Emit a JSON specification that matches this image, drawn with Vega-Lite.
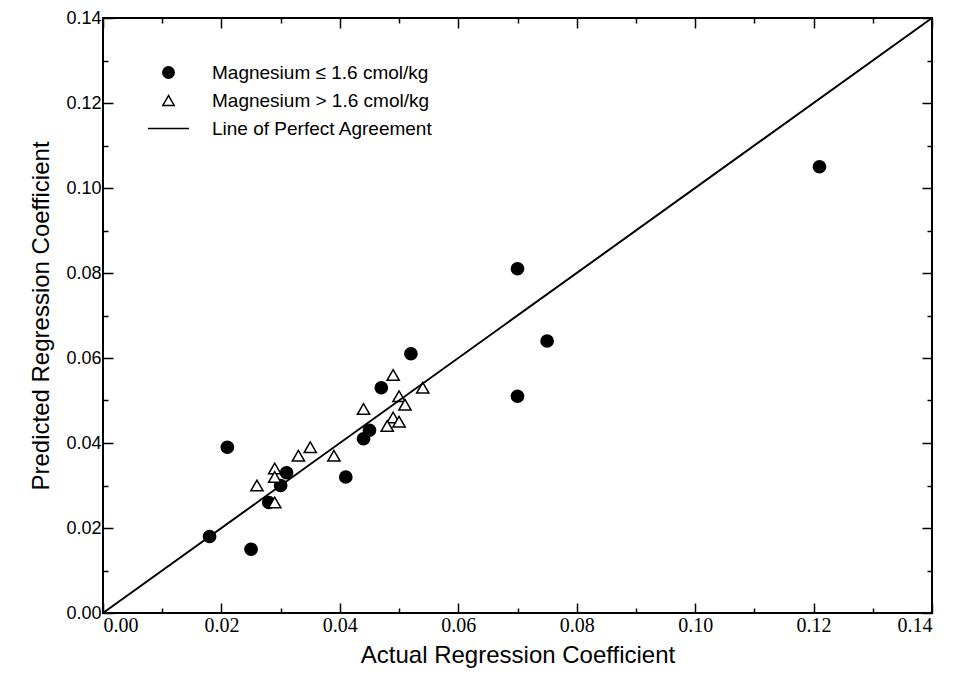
{
  "$schema": "https://vega.github.io/schema/vega-lite/v6.json",
  "width": 829,
  "height": 595,
  "autosize": {"type": "none"},
  "padding": {"left": 103, "top": 18, "right": 23, "bottom": 73},
  "background": "white",
  "config": {
    "view": {"stroke": "black", "strokeWidth": 2},
    "font": "Liberation Sans",
    "axis": {
      "domain": false,
      "grid": false,
      "tickColor": "black",
      "tickWidth": 1.5,
      "labelColor": "black",
      "titleColor": "black",
      "titleFontWeight": "normal"
    },
    "legend": {
      "orient": "none",
      "legendX": 56,
      "legendY": 45,
      "padding": 0,
      "labelFont": "Liberation Sans",
      "labelFontSize": 19,
      "labelColor": "black",
      "labelLimit": 500,
      "labelOffset": 34,
      "rowPadding": 8,
      "symbolSize": 130,
      "symbolStrokeWidth": 1.5
    }
  },
  "resolve": {"axis": {"x": "independent", "y": "independent"}},
  "layer": [
    {
      "data": {"values": [
        {"actual": 0.018, "predicted": 0.018, "group": "Magnesium ≤ 1.6 cmol/kg"},
        {"actual": 0.025, "predicted": 0.015, "group": "Magnesium ≤ 1.6 cmol/kg"},
        {"actual": 0.021, "predicted": 0.039, "group": "Magnesium ≤ 1.6 cmol/kg"},
        {"actual": 0.028, "predicted": 0.026, "group": "Magnesium ≤ 1.6 cmol/kg"},
        {"actual": 0.030, "predicted": 0.030, "group": "Magnesium ≤ 1.6 cmol/kg"},
        {"actual": 0.031, "predicted": 0.033, "group": "Magnesium ≤ 1.6 cmol/kg"},
        {"actual": 0.041, "predicted": 0.032, "group": "Magnesium ≤ 1.6 cmol/kg"},
        {"actual": 0.044, "predicted": 0.041, "group": "Magnesium ≤ 1.6 cmol/kg"},
        {"actual": 0.045, "predicted": 0.043, "group": "Magnesium ≤ 1.6 cmol/kg"},
        {"actual": 0.047, "predicted": 0.053, "group": "Magnesium ≤ 1.6 cmol/kg"},
        {"actual": 0.052, "predicted": 0.061, "group": "Magnesium ≤ 1.6 cmol/kg"},
        {"actual": 0.070, "predicted": 0.081, "group": "Magnesium ≤ 1.6 cmol/kg"},
        {"actual": 0.070, "predicted": 0.051, "group": "Magnesium ≤ 1.6 cmol/kg"},
        {"actual": 0.075, "predicted": 0.064, "group": "Magnesium ≤ 1.6 cmol/kg"},
        {"actual": 0.121, "predicted": 0.105, "group": "Magnesium ≤ 1.6 cmol/kg"},
        {"actual": 0.026, "predicted": 0.030, "group": "Magnesium > 1.6 cmol/kg"},
        {"actual": 0.029, "predicted": 0.034, "group": "Magnesium > 1.6 cmol/kg"},
        {"actual": 0.029, "predicted": 0.032, "group": "Magnesium > 1.6 cmol/kg"},
        {"actual": 0.029, "predicted": 0.026, "group": "Magnesium > 1.6 cmol/kg"},
        {"actual": 0.033, "predicted": 0.037, "group": "Magnesium > 1.6 cmol/kg"},
        {"actual": 0.035, "predicted": 0.039, "group": "Magnesium > 1.6 cmol/kg"},
        {"actual": 0.039, "predicted": 0.037, "group": "Magnesium > 1.6 cmol/kg"},
        {"actual": 0.044, "predicted": 0.048, "group": "Magnesium > 1.6 cmol/kg"},
        {"actual": 0.049, "predicted": 0.056, "group": "Magnesium > 1.6 cmol/kg"},
        {"actual": 0.050, "predicted": 0.051, "group": "Magnesium > 1.6 cmol/kg"},
        {"actual": 0.051, "predicted": 0.049, "group": "Magnesium > 1.6 cmol/kg"},
        {"actual": 0.054, "predicted": 0.053, "group": "Magnesium > 1.6 cmol/kg"},
        {"actual": 0.049, "predicted": 0.046, "group": "Magnesium > 1.6 cmol/kg"},
        {"actual": 0.048, "predicted": 0.044, "group": "Magnesium > 1.6 cmol/kg"},
        {"actual": 0.050, "predicted": 0.045, "group": "Magnesium > 1.6 cmol/kg"}
      ]},
      "mark": {"type": "point", "filled": false, "size": 150, "strokeWidth": 1.5, "opacity": 1},
      "encoding": {
        "x": {
          "field": "actual", "type": "quantitative",
          "scale": {"domain": [0, 0.14], "nice": false, "zero": false},
          "axis": {
            "orient": "bottom",
            "title": "Actual Regression Coefficient",
            "titleFont": "Liberation Sans",
            "titlePadding": 8,
            "titleFontSize": 24,
            "labelFont": "Liberation Sans Narrow",
            "labelFontSize": 20,
            "labelPadding": 12,
            "values": [0, 0.01, 0.02, 0.03, 0.04, 0.05, 0.06, 0.07, 0.08, 0.09, 0.1, 0.11, 0.12, 0.13, 0.14],
            "labelExpr": "round(datum.value*100) % 2 === 1 ? '' : format(datum.value, '.2f')",
            "tickSize": {"condition": {"test": "round(datum.value*100) % 2 === 1", "value": -5}, "value": -10}
          }
        },
        "y": {
          "field": "predicted", "type": "quantitative",
          "scale": {"domain": [0, 0.14], "nice": false, "zero": false},
          "axis": {
            "orient": "left",
            "title": "Predicted Regression Coefficient",
            "titleFont": "Liberation Sans",
            "titlePadding": 12,
            "titleFontSize": 24,
            "labelFont": "Liberation Sans",
            "labelFontSize": 18,
            "labelPadding": 12,
            "values": [0, 0.01, 0.02, 0.03, 0.04, 0.05, 0.06, 0.07, 0.08, 0.09, 0.1, 0.11, 0.12, 0.13, 0.14],
            "labelExpr": "round(datum.value*100) % 2 === 1 ? '' : format(datum.value, '.2f')",
            "tickSize": {"condition": {"test": "round(datum.value*100) % 2 === 1", "value": -5}, "value": -10}
          }
        },
        "shape": {
          "field": "group", "type": "nominal",
          "scale": {
            "domain": ["Magnesium ≤ 1.6 cmol/kg", "Magnesium > 1.6 cmol/kg", "Line of Perfect Agreement"],
            "range": ["circle", "triangle-up", "M-3.6,0L3.6,0"]
          },
          "legend": {"title": null}
        },
        "fill": {
          "field": "group", "type": "nominal",
          "scale": {
            "domain": ["Magnesium ≤ 1.6 cmol/kg", "Magnesium > 1.6 cmol/kg", "Line of Perfect Agreement"],
            "range": ["black", "white", "transparent"]
          },
          "legend": {"title": null}
        },
        "stroke": {
          "field": "group", "type": "nominal",
          "scale": {
            "domain": ["Magnesium ≤ 1.6 cmol/kg", "Magnesium > 1.6 cmol/kg", "Line of Perfect Agreement"],
            "range": ["black", "black", "black"]
          },
          "legend": {"title": null}
        }
      }
    },
    {
      "data": {"values": [
        {"actual": 0.0, "predicted": 0.0},
        {"actual": 0.14, "predicted": 0.14}
      ]},
      "mark": {"type": "line", "color": "black", "strokeWidth": 2},
      "encoding": {
        "x": {
          "field": "actual", "type": "quantitative",
          "axis": {
            "orient": "top", "labels": false, "title": null,
            "values": [0, 0.01, 0.02, 0.03, 0.04, 0.05, 0.06, 0.07, 0.08, 0.09, 0.1, 0.11, 0.12, 0.13, 0.14],
            "tickSize": {"condition": {"test": "round(datum.value*100) % 2 === 1", "value": -5}, "value": -10}
          }
        },
        "y": {
          "field": "predicted", "type": "quantitative",
          "axis": {
            "orient": "right", "labels": false, "title": null,
            "values": [0, 0.01, 0.02, 0.03, 0.04, 0.05, 0.06, 0.07, 0.08, 0.09, 0.1, 0.11, 0.12, 0.13, 0.14],
            "tickSize": {"condition": {"test": "round(datum.value*100) % 2 === 1", "value": -5}, "value": -10}
          }
        }
      }
    }
  ]
}
